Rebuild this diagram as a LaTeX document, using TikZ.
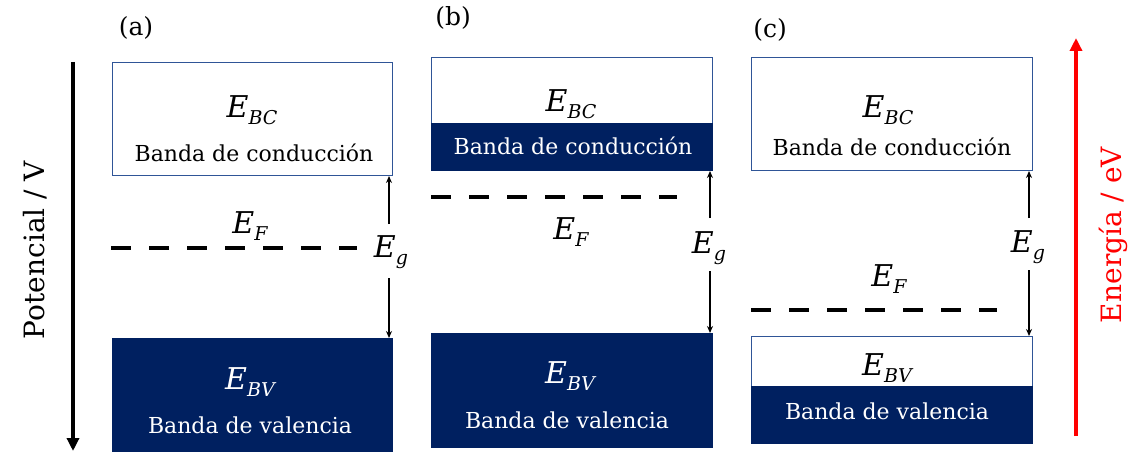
\documentclass[tikz,border=0pt]{standalone}
\usepackage{fontspec}
\setmainfont{DejaVu Serif}
\usetikzlibrary{arrows.meta}
\definecolor{navy}{HTML}{002060}
\definecolor{bord}{HTML}{2F5597}
\definecolor{ered}{HTML}{FF0000}
\newcommand{\En}[1]{{\fontsize{30}{30}\selectfont\itshape E}\raisebox{-6.5pt}{\fontsize{19}{19}\selectfont\itshape #1}}
\begin{document}
\begin{tikzpicture}[x=1pt,y=-1pt,
  wbox/.style={draw=bord,line width=1pt,fill=white,inner sep=0pt,anchor=north west},
  dbox/.style={draw=navy,line width=1pt,fill=navy,inner sep=0pt,anchor=north west},
  bandtxt/.style={font=\fontsize{22}{22}\selectfont,inner sep=0pt},
  elab/.style={inner sep=0pt},
  panel/.style={font=\fontsize{25}{25}\selectfont,inner sep=0pt},
  fermi/.style={line width=4.5pt,dash pattern=on 20pt off 18pt},
  gap/.style={line width=1.6pt,-{Stealth[length=7pt,width=6pt]}},
  axis/.style={line width=3.5pt,-{Triangle[length=13pt,width=12pt]}}
]
\useasboundingbox (0,0) rectangle (1137,452);

% ---------- panel (a)
\node[panel] (la) at (136,28) {(a)};
\node[wbox,minimum width=280pt,minimum height=113pt] (cbA) at (112,62) {};
\node[dbox,minimum width=280pt,minimum height=114pt] (vbA) at (112,338) {};
\node[elab] (ebcA) at (252,110) {\En{BC}};
\node[bandtxt] (tcA) at (254,153) {Banda de conducción};
\node[elab,text=white] (ebvA) at (250,382) {\En{BV}};
\node[bandtxt,text=white] (tvA) at (250,425) {Banda de valencia};
\coordinate (fA1) at (111,248);
\coordinate (fA2) at (357,248);
\draw[fermi] (fA1) -- (fA2);
\node[elab] (efA) at (250,226) {\En{F}};
\node[elab] (egA) at (391,252) {\En{g}};
\coordinate (gA1) at (389,224);
\coordinate (gA2) at (389,278);
\draw[gap] (gA1) -- (gA1 |- cbA.south);
\draw[gap] (gA2) -- (gA2 |- vbA.north);

% ---------- panel (b)
\node[panel] (lb) at (453,18) {(b)};
\node[wbox,minimum width=281pt,minimum height=113pt] (cbB) at (431,57) {};
\node[dbox,minimum width=281pt,minimum height=47pt] (cbBd) at (431,123) {};
\node[dbox,minimum width=281pt,minimum height=114pt] (vbB) at (431,333) {};
\node[elab] (ebcB) at (571,104) {\En{BC}};
\node[bandtxt,text=white] (tcB) at (573,146) {Banda de conducción};
\node[elab,text=white] (ebvB) at (570,376) {\En{BV}};
\node[bandtxt,text=white] (tvB) at (567,420) {Banda de valencia};
\coordinate (fB1) at (431,197);
\coordinate (fB2) at (677,197);
\draw[fermi] (fB1) -- (fB2);
\node[elab] (efB) at (571,232) {\En{F}};
\node[elab] (egB) at (709,248) {\En{g}};
\coordinate (gB1) at (710,218);
\coordinate (gB2) at (710,271);
\draw[gap] (gB1) -- (gB1 |- cbB.south);
\draw[gap] (gB2) -- (gB2 |- vbB.north);

% ---------- panel (c)
\node[panel] (lc) at (770,30) {(c)};
\node[wbox,minimum width=281pt,minimum height=113pt] (cbC) at (751,57) {};
\node[wbox,minimum width=281pt,minimum height=107pt] (vbC) at (751,336) {};
\node[dbox,minimum width=281pt,minimum height=57pt] (vbCd) at (751,386) {};
\node[elab] (ebcC) at (888,110) {\En{BC}};
\node[bandtxt] (tcC) at (892,147) {Banda de conducción};
\node[elab] (ebvC) at (887,368) {\En{BV}};
\node[bandtxt,text=white] (tvC) at (887,411) {Banda de valencia};
\coordinate (fC1) at (751,310);
\coordinate (fC2) at (997,310);
\draw[fermi] (fC1) -- (fC2);
\node[elab] (efC) at (889,279) {\En{F}};
\node[elab] (egC) at (1028,247) {\En{g}};
\coordinate (gC1) at (1029,218);
\coordinate (gC2) at (1029,270);
\draw[gap] (gC1) -- (gC1 |- cbC.south);
\draw[gap] (gC2) -- (gC2 |- vbC.north);

% ---------- axes
\coordinate (vTop) at (73,62);
\coordinate (vBot) at (73,451);
\draw[axis,black] (vTop) -- (vBot);
\node[rotate=90,font=\fontsize{28}{28}\selectfont,inner sep=0pt] (potl) at (35,250) {Potencial / V};
\coordinate (eBot) at (1076,436);
\coordinate (eTop) at (1076,38);
\draw[axis,ered] (eBot) -- (eTop);
\node[rotate=90,font=\fontsize{28}{28}\selectfont,text=ered,inner sep=0pt] (enl) at (1113,235) {Energía / eV};
\end{tikzpicture}
\end{document}
